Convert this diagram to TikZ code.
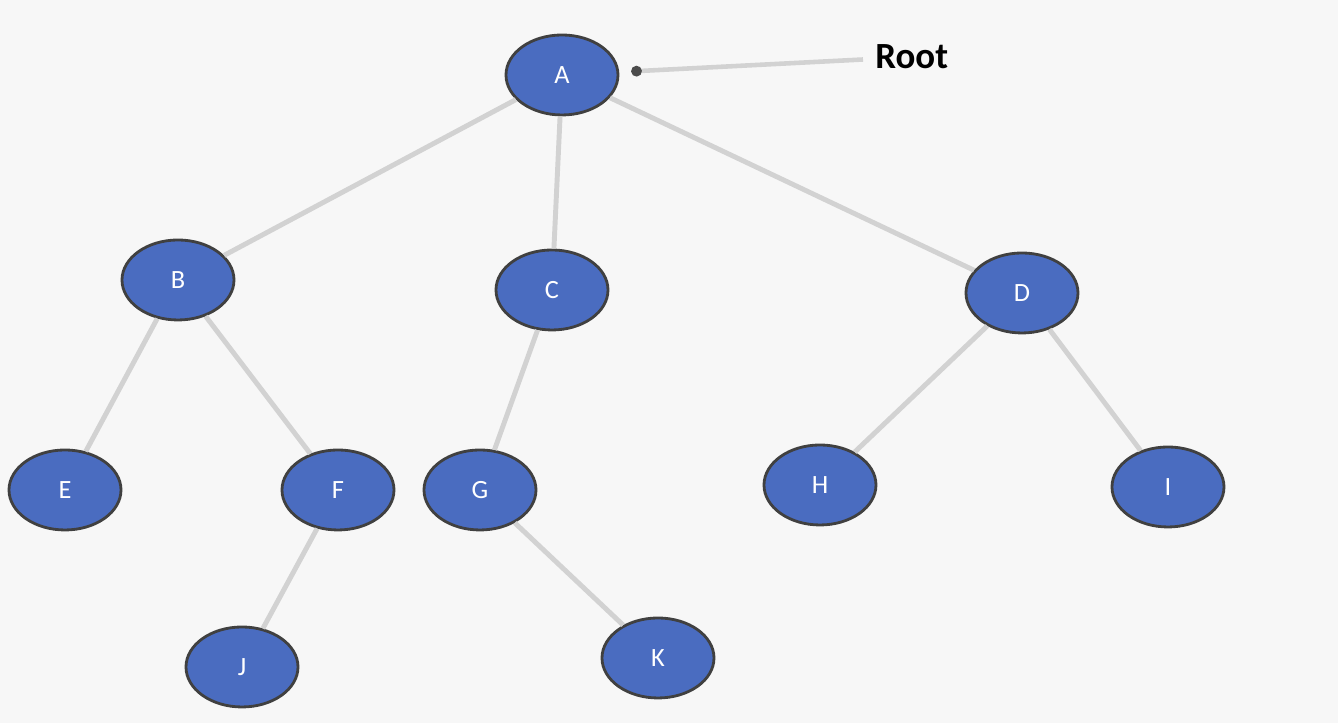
\documentclass[tikz,border=0pt]{standalone}
\usepackage{fontspec}
\setmainfont{Carlito}
\usetikzlibrary{shapes.geometric,arrows.meta,positioning}
\definecolor{nodeblue}{HTML}{4A6CC0}
\definecolor{edgegray}{HTML}{D2D2D2}
\definecolor{bggray}{HTML}{F7F7F7}

\begin{document}
\begin{tikzpicture}
[tnode/.style={shape=ellipse,fill=nodeblue,draw=black!75,line width=.8pt,
  minimum width=1.12cm,minimum height=.8cm,inner sep=0pt,
  text=white,font=\fontsize{7.5}{9}\selectfont},
tedge/.style={edgegray,line width=1.4pt},
rootedge/.style={edgegray,line width=1.3pt,-{Circle[length=3pt,black!70]},shorten >=.12cm}]
% background and page size
\fill[bggray] (0,0) rectangle (13.38,-7.23);
\useasboundingbox (0,0) rectangle (13.38,-7.23);

% nodes
\node[tnode] (A) at (5.62,-.75) {A};
\node[tnode] (B) at (1.78,-2.80) {B};
\node[tnode] (C) at (5.52,-2.90) {C};
\node[tnode] (D) at (10.22,-2.93) {D};
\node[tnode] (E) at (.65,-4.90) {E};
\node[tnode] (F) at (3.38,-4.90) {F};
\node[tnode] (G) at (4.80,-4.90) {G};
\node[tnode] (H) at (8.20,-4.85) {H};
\node[tnode] (I) at (11.68,-4.87) {I};
\node[tnode] (J) at (2.42,-6.67) {J};
\node[tnode] (K) at (6.58,-6.58) {K};

% edges
\draw[tedge] (A) -- (B);
\draw[tedge] (A) -- (C);
\draw[tedge] (A) -- (D);
\draw[tedge] (B) -- (E);
\draw[tedge] (B) -- (F);
\draw[tedge] (C) -- (G);
\draw[tedge] (D) -- (H);
\draw[tedge] (D) -- (I);
\draw[tedge] (F) -- (J);
\draw[tedge] (G) -- (K);

% root label
\node[font=\fontsize{10.5}{12}\selectfont\bfseries,anchor=west] (root) at (8.63,-.57) {Root};
\draw[rootedge] (root) -- (A);
\end{tikzpicture}
\end{document}
